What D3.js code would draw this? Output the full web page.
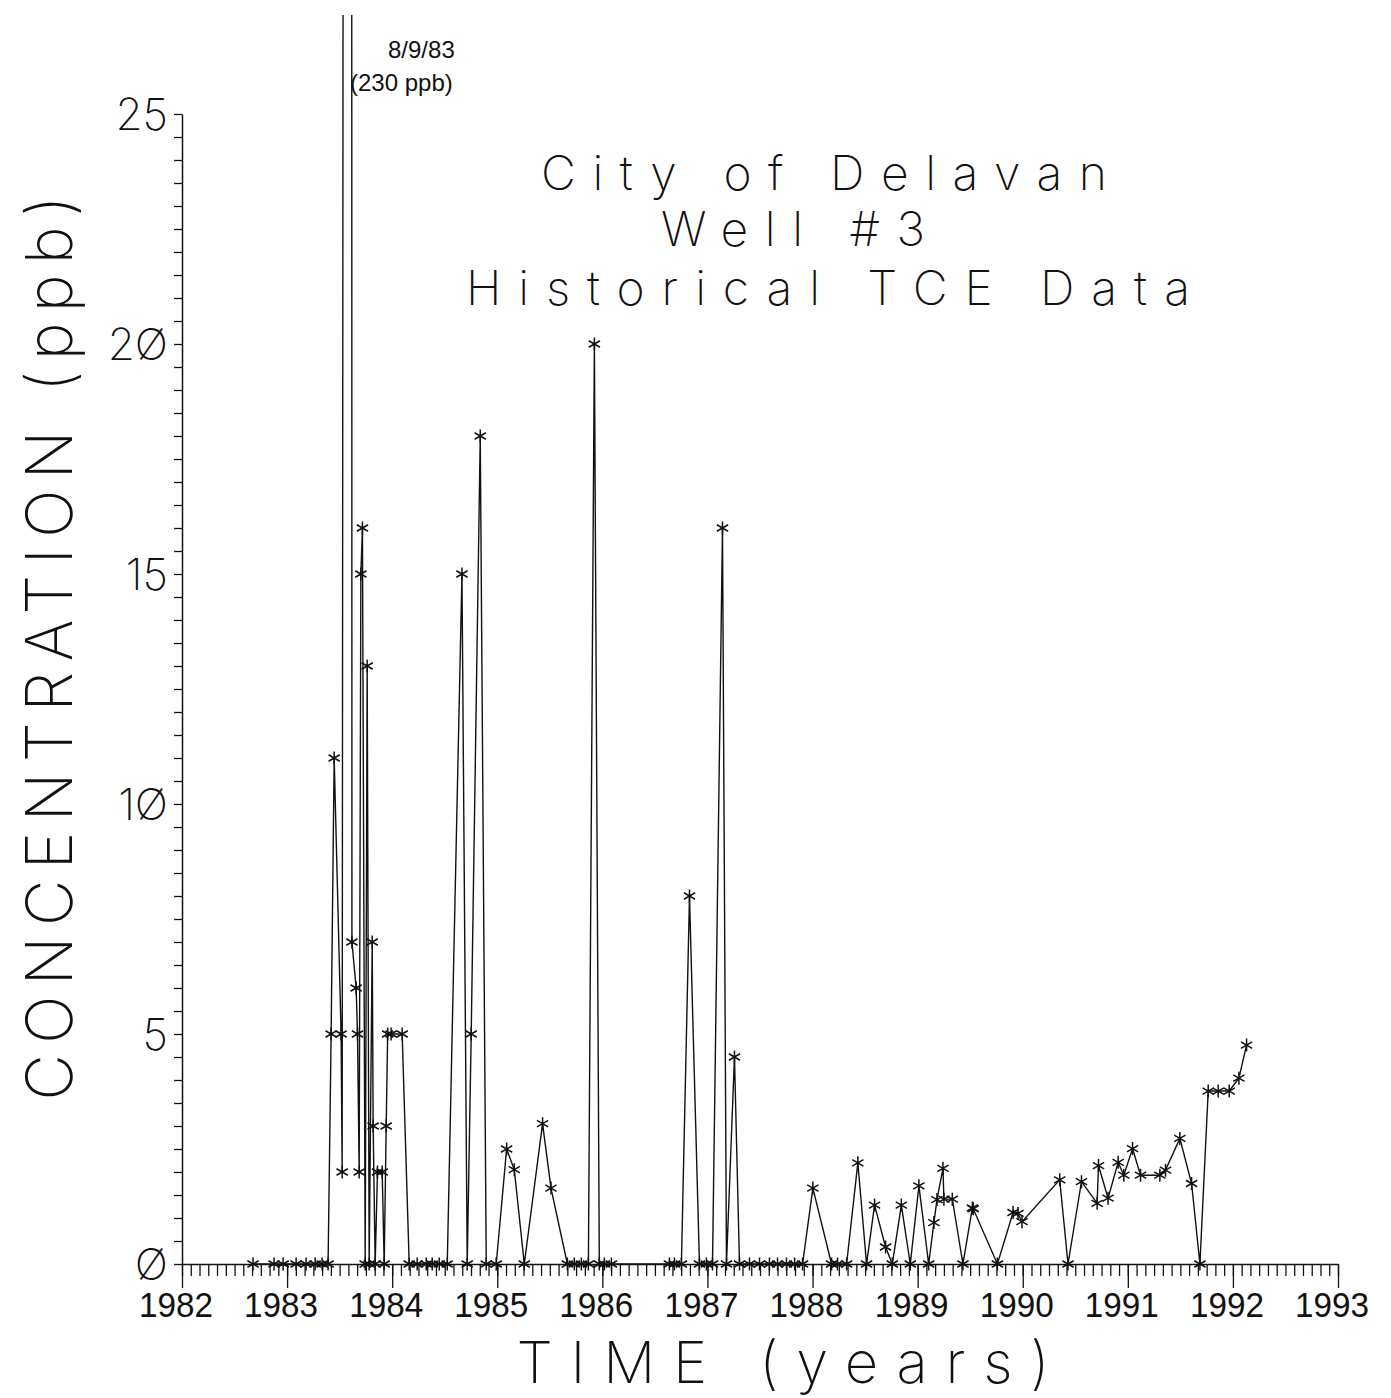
<!DOCTYPE html>
<html>
<head>
<meta charset="utf-8">
<script src="https://cdn.jsdelivr.net/npm/d3@7"></script>
<style>
  body { margin: 0; background: #fff; }
</style>
</head>
<body>
<div id="chart"></div>
<script>
// sample dates (decimal years) and TCE concentration (ppb)
var dates = [
  1982.676, 1982.876, 1982.962, 1983.086, 1983.181, 1983.267, 1983.333, 1983.390,
  1983.419, 1983.448, 1983.514, 1983.524, 1983.600, 1983.617, 1983.657, 1983.670,
  1983.686, 1983.702, 1983.717, 1983.743, 1983.762, 1983.781, 1983.810, 1983.819,
  1983.838, 1983.860, 1983.905, 1983.924, 1983.943, 1983.957, 1983.990, 1984.095,
  1984.162, 1984.238, 1984.324, 1984.381, 1984.448, 1984.524, 1984.664, 1984.714,
  1984.752, 1984.838, 1984.895, 1984.990, 1985.089, 1985.162, 1985.257, 1985.431,
  1985.511, 1985.667, 1985.733, 1985.800, 1985.867, 1985.924, 1985.971, 1986.019,
  1986.086, 1986.638, 1986.686, 1986.752, 1986.829, 1986.924, 1986.990, 1987.048,
  1987.143, 1987.181, 1987.257, 1987.305, 1987.400, 1987.495, 1987.590, 1987.667,
  1987.752, 1987.829, 1987.905, 1988.003, 1988.181, 1988.238, 1988.324, 1988.431,
  1988.514, 1988.590, 1988.695, 1988.759, 1988.845, 1988.930, 1989.012, 1989.105,
  1989.155, 1989.184, 1989.241, 1989.250, 1989.330, 1989.431, 1989.521, 1989.529,
  1989.759, 1989.908, 1989.955, 1989.993, 1990.352, 1990.431, 1990.559, 1990.708,
  1990.721, 1990.812, 1990.908, 1990.962, 1991.045, 1991.121, 1991.305, 1991.359,
  1991.495, 1991.607, 1991.686, 1991.765, 1991.860, 1991.965, 1992.057, 1992.130
];
var tce = [
  0, 0, 0, 0, 0, 0, 0, 0,
  5, 11, 5, 2, 230, 7, 6, 5,
  2, 15, 16, 0, 13, 0, 7, 3,
  0, 2, 2, 0, 3, 5, 5, 5,
  0, 0, 0, 0, 0, 0, 15, 0,
  5, 18, 0, 0, 2.5, 2.05, 0, 3.05,
  1.65, 0, 0, 0, 0, 20, 0, 0,
  0, 0, 0, 0, 8, 0, 0, 0,
  16, 0, 4.5, 0, 0, 0, 0, 0,
  0, 0, 0, 1.65, 0, 0, 0, 2.2,
  0, 1.28, 0.37, 0, 1.28, 0, 1.7, 0,
  0.9, 1.4, 2.08, 1.41, 1.41, 0, 1.22, 1.2,
  0, 1.12, 1.1, 0.92, 1.83, 0, 1.79, 1.32,
  2.14, 1.43, 2.21, 1.93, 2.51, 1.93, 1.93, 2.04,
  2.73, 1.75, 0, 3.76, 3.76, 3.76, 4.04, 4.76
];

var yearTicks = d3.range(1982, 1994);
var yTickValues = [0, 5, 10, 15, 20, 25];
var yTickLabels = ["Ø", "5", "1Ø", "15", "2Ø", "25"];
var titleLines = ["City of Delavan", "Well #3", "Historical TCE Data"];
var peakNote = ["8/9/83", "(230 ppb)"];

var width = 1391;
var height = 1398;
var plotLeft = 182, plotRight = 1338;
var plotTop = 114, plotBottom = 1264;
var thinFont = "Inter, 'Open Sans', 'DejaVu Sans', sans-serif";
var tickFont = "'Liberation Sans Narrow', 'Liberation Sans', Arial, sans-serif";

var svg = d3.select("#chart").append("svg")
  .attr("width", width)
  .attr("height", height)
  .style("background", "#fff");

var x = d3.scaleLinear().domain([1982, 1993]).range([plotLeft, plotRight]);
var y = d3.scaleLinear().domain([0, 25]).range([plotBottom, plotTop]);

// spike runs off the top of the sheet
svg.append("clipPath").attr("id", "clip")
  .append("rect")
  .attr("x", 0).attr("y", 15)
  .attr("width", width).attr("height", height - 15);

// x axis: monthly minor ticks, longer ticks on the years
var months = d3.range(0, 11 * 12 + 1).map(function(i) { return 1982 + i / 12; });

var xMinor = svg.append("g")
  .attr("transform", "translate(0," + plotBottom + ")")
  .call(d3.axisBottom(x).tickValues(months).tickSize(12).tickSizeOuter(0).tickFormat(""));
var xMajor = svg.append("g")
  .attr("transform", "translate(0," + plotBottom + ")")
  .call(d3.axisBottom(x).tickValues(yearTicks).tickSize(24).tickSizeOuter(0).tickFormat(""));
xMajor.select(".domain").remove();

[xMinor, xMajor].forEach(function(g) {
  g.selectAll("line").attr("stroke", "#111").attr("stroke-width", 1.3);
  g.selectAll(".domain").attr("stroke", "#111").attr("stroke-width", 1.5);
});

svg.append("g").selectAll("text")
  .data(yearTicks)
  .enter().append("text")
  .attr("x", function(d) { return x(d) - 6; })
  .attr("y", 1317)
  .attr("text-anchor", "middle")
  .attr("textLength", 74)
  .attr("lengthAdjust", "spacingAndGlyphs")
  .style("font-family", tickFont)
  .style("font-size", "35px")
  .style("fill", "#111")
  .text(function(d) { return d; });

// y axis: ticks every half ppb
var halfSteps = d3.range(0, 25.001, 0.5);
var yAxis = svg.append("g")
  .attr("transform", "translate(" + plotLeft + ",0)")
  .call(d3.axisLeft(y).tickValues(halfSteps).tickSize(8).tickSizeOuter(0).tickFormat(""));
yAxis.selectAll("line").attr("stroke", "#111").attr("stroke-width", 1.3);
yAxis.select(".domain").attr("stroke", "#111").attr("stroke-width", 1.5);

svg.append("g").selectAll("text")
  .data(yTickValues)
  .enter().append("text")
  .attr("x", 168)
  .attr("y", function(d) { return y(d); })
  .attr("dy", "0.36em")
  .attr("text-anchor", "end")
  .style("font-family", thinFont)
  .style("font-weight", 200)
  .style("font-size", "44px")
  .style("fill", "#111")
  .text(function(d, i) { return yTickLabels[i]; });

// series
var points = dates.map(function(d, i) { return {date: d, value: tce[i]}; });

var line = d3.line()
  .x(function(d) { return x(d.date); })
  .y(function(d) { return y(d.value); });

var plot = svg.append("g").attr("clip-path", "url(#clip)");

plot.append("path")
  .datum(points)
  .attr("d", line)
  .attr("fill", "none")
  .attr("stroke", "#111")
  .attr("stroke-width", 1.4);

function asterisk(r) {
  var s = "M0," + (-r) + "L0," + r;
  [30, -30].forEach(function(a) {
    var dx = r * Math.cos(a * Math.PI / 180), dy = r * Math.sin(a * Math.PI / 180);
    s += "M" + (-dx) + "," + (-dy) + "L" + dx + "," + dy;
  });
  return s;
}

plot.selectAll(".mark")
  .data(points)
  .enter().append("path")
  .attr("class", "mark")
  .attr("transform", function(d) { return "translate(" + x(d.date) + "," + y(d.value) + ")"; })
  .attr("d", asterisk(6.5))
  .attr("fill", "none")
  .attr("stroke", "#111")
  .attr("stroke-width", 1.5);

// peak note
svg.append("g").selectAll("text")
  .data(peakNote)
  .enter().append("text")
  .attr("x", function(d, i) { return i === 0 ? 388 : 350; })
  .attr("y", function(d, i) { return 58 + i * 33; })
  .style("font-family", "'Liberation Sans', Arial, sans-serif")
  .style("font-size", "24px")
  .style("fill", "#111")
  .text(function(d) { return d; });

// title
var titlePos = [
  {cx: 824, y: 190, len: 566},
  {cx: 793, y: 246, len: 264},
  {cx: 828, y: 305, len: 724}
];
svg.append("g").selectAll("text")
  .data(titleLines)
  .enter().append("text")
  .attr("x", function(d, i) { return titlePos[i].cx; })
  .attr("y", function(d, i) { return titlePos[i].y; })
  .attr("text-anchor", "middle")
  .attr("textLength", function(d, i) { return titlePos[i].len; })
  .attr("lengthAdjust", "spacing")
  .style("font-family", thinFont)
  .style("font-weight", 200)
  .style("font-size", "48px")
  .style("fill", "#111")
  .text(function(d) { return d; });

// axis titles
svg.append("text")
  .attr("transform", "translate(72,648) rotate(-90)")
  .attr("text-anchor", "middle")
  .attr("textLength", 905)
  .attr("lengthAdjust", "spacing")
  .style("font-family", thinFont)
  .style("font-weight", 200)
  .style("font-size", "64px")
  .style("fill", "#111")
  .text("CONCENTRATION (ppb)");

svg.append("text")
  .attr("x", 783)
  .attr("y", 1383)
  .attr("text-anchor", "middle")
  .attr("textLength", 533)
  .attr("lengthAdjust", "spacing")
  .style("font-family", thinFont)
  .style("font-weight", 200)
  .style("font-size", "58px")
  .style("fill", "#111")
  .text("TIME (years)");
</script>
</body>
</html>
